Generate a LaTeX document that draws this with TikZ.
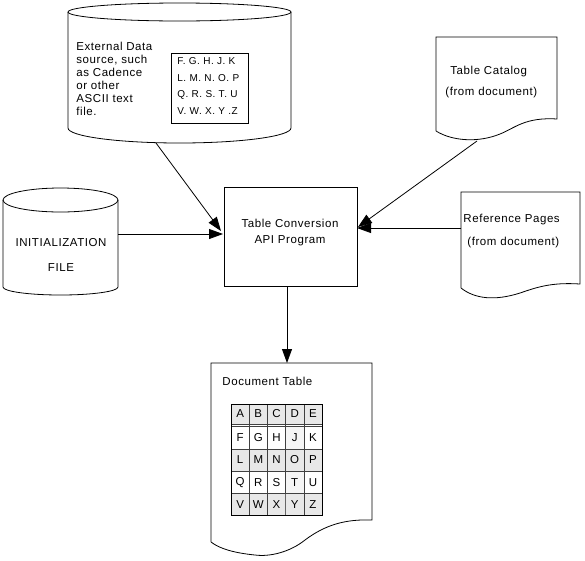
\documentclass[tikz,border=0pt]{standalone}
\usepackage{fontspec}
\setmainfont{Liberation Sans}[LetterSpace=5]
\usetikzlibrary{arrows.meta}
\begin{document}
\begin{tikzpicture}[x=1pt,y=-1pt,line width=0.8pt,
  arr/.style={-{Triangle[length=14pt,width=10pt]}},
  lbl/.style={inner sep=0pt,font=\fontsize{11.5}{13}\selectfont},
  small/.style={inner sep=0pt,font=\fontsize{10}{16.7}\selectfont},
  cell/.style={inner sep=0pt,font=\fontsize{11.5}{13}\selectfont},
  outl/.style={draw=black,line width=0.8pt}]
\useasboundingbox (0,0) rectangle (585,560);

% ---------- External data cylinder ----------
\draw[outl] (179.5,12) ellipse [x radius=111.5pt, y radius=9pt];
\draw[outl] (68,12) -- (68,128) arc[start angle=180,end angle=360,x radius=111.5pt,y radius=15pt] -- (291,12);
\coordinate (extout) at (156,143);
\node[lbl,anchor=north west,align=left] (exttext) at (76,42) {External Data\\source, such\\as Cadence\\or other\\ASCII text\\file.};
\node[draw,line width=0.7pt,minimum width=77pt,minimum height=70pt,inner sep=0pt] (inbox) at (209.5,88) {};
\node[small,anchor=north west,align=left] (intext) at (177,57) {F. G. H. J. K\\L. M. N. O. P\\Q. R. S. T. U\\V. W. X. Y .Z};

% ---------- Initialization cylinder ----------
\draw[outl] (60.5,200) ellipse [x radius=57.5pt, y radius=12pt];
\draw[outl] (3,200) -- (3,287) arc[start angle=180,end angle=360,x radius=57.5pt,y radius=8pt] -- (118,200);
\coordinate (initout) at (118,234);
\node[lbl] (init1) at (61,243) {INITIALIZATION};
\node[lbl] (init2) at (61,268) {FILE};

% ---------- Table Catalog document ----------
\draw[outl] (436,131) -- (436,37) -- (557,37) -- (557,119)
  .. controls (525,117) and (515,128) .. (500,134)
  .. controls (478,143) and (452,141) .. (436,131);
\coordinate (catout) at (477,141);
\node[lbl,anchor=west] (cat1) at (450,72) {Table Catalog};
\node[lbl,anchor=west] (cat2) at (445,93) {(from document)};

% ---------- Reference Pages document ----------
\draw[outl] (461,288) -- (461,192) -- (580,192) -- (580,284)
  .. controls (550,282) and (535,288) .. (520,293)
  .. controls (495,301) and (475,299) .. (461,288);
\coordinate (refout) at (461,228);
\node[lbl,anchor=west] (ref1) at (463,220) {Reference Pages};
\node[lbl,anchor=west] (ref2) at (467,243) {(from document)};

% ---------- API box ----------
\node[draw,line width=0.8pt,minimum width=133pt,minimum height=99pt,inner sep=0pt] (api) at (290.5,236.5) {};
\node[lbl,align=center] (apitext) at (290,233) {Table Conversion\\[3pt]API Program};
\coordinate (apiW1) at (221,231);
\coordinate (apiW2) at (223,234);
\coordinate (apiE1) at (358,227);
\coordinate (apiE2) at (357,228);
\coordinate (apiS) at (287,286);

% ---------- Document Table ----------
\draw[outl] (211,542) -- (211,363) -- (372,363) -- (372,520)
  .. controls (345,519) and (325,525) .. (305,540)
  .. controls (290,552) and (270,557) .. (255,555)
  .. controls (235,553) and (220,549) .. (211,542);
\coordinate (docin) at (287,363);
\node[lbl,anchor=west] (doctitle) at (222,381) {Document Table};

% table
\fill[gray!18] (231,404) rectangle (322,424);
\fill[gray!18] (231,448.8) rectangle (322,471.1);
\fill[gray!18] (231,493.4) rectangle (322,515.7);
\fill[gray!8] (285.6,426.5) rectangle (303.8,448.8);
\fill[gray!8] (285.6,471.1) rectangle (303.8,493.4);
\foreach \k in {1,2,3,4} \draw[black!75,line width=0.5pt] ({231+18.2*\k},404) -- ({231+18.2*\k},515.7);
\draw[black!60,line width=0.9pt] (285.6,493.4) -- (285.6,515.7);
\foreach \yy in {448.8,471.1,493.4} \draw[black!75,line width=0.5pt] (231,\yy) -- (322,\yy);
\draw[black!75,line width=0.7pt] (231,424) -- (322,424);
\draw[black!75,line width=0.7pt] (231,426.5) -- (322,426.5);
\draw[line width=0.7pt] (231,404) rectangle (322,515.7);
\foreach \t [count=\i from 0] in {A,B,C,D,E}
  \node[cell] (h\t) at ({240.1+18.2*\i},414) {\t};
\foreach \r [count=\j from 0] in {{F,G,H,J,K},{L,M,N,O,P},{Q,R,S,T,U},{V,W,X,Y,Z}}
  \foreach \t [count=\i from 0] in \r
    \node[cell] (c\t) at ({240.1+18.2*\i},{437.65+22.3*\j}) {\t};

% ---------- connectors ----------
\draw[arr] (extout) -- (apiW1);
\draw[arr] (initout) -- (apiW2);
\draw[arr] (catout) -- (apiE1);
\draw[arr] (refout) -- (apiE2);
\draw[arr] (apiS) -- (docin);
\end{tikzpicture}
\end{document}
